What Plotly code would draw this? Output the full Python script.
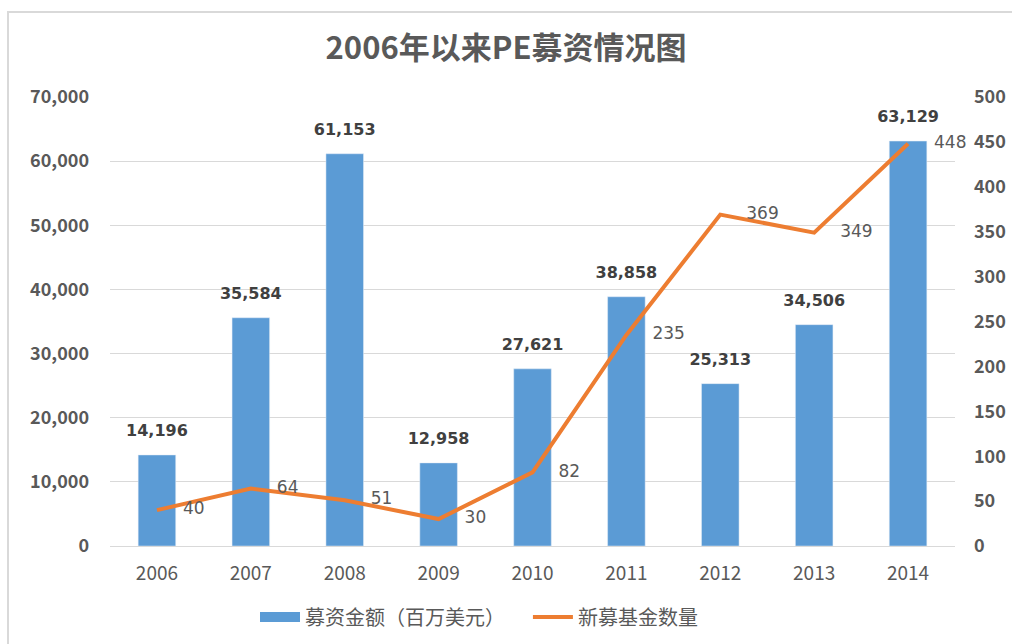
import plotly.graph_objects as go

years = ["2006", "2007", "2008", "2009", "2010", "2011", "2012", "2013", "2014"]
amount = [14196, 35584, 61153, 12958, 27621, 38858, 25313, 34506, 63129]
funds = [40, 64, 51, 30, 82, 235, 369, 349, 448]

W, H = 1012, 644
L, R, T, B = 110, 57, 97, 98
FONT = "Noto Sans CJK SC, Noto Sans, sans-serif"
LABEL_FONT = "DejaVu Sans, Verdana, sans-serif"
GREY = "#595959"
BLUE = "#5B9BD5"
ORANGE = "#ED7D31"
NBSP = "\u00a0"

fig = go.Figure()

fig.add_trace(go.Bar(
    x=years, y=amount, name="募资金额（百万美元）",
    marker_color=BLUE, width=0.40, showlegend=False,
))

# bar value labels, pushed up by an invisible marker
fig.add_trace(go.Scatter(
    x=years, y=amount, mode="markers+text", showlegend=False,
    marker=dict(size=22, color="rgba(0,0,0,0)"),
    text=[f"<b>{v:,}</b>" for v in amount], textposition="top center",
    textfont=dict(family=LABEL_FONT, size=16, color="#404040"),
    cliponaxis=False, hoverinfo="skip",
))

fig.add_trace(go.Scatter(
    x=years, y=funds, name="新募基金数量", yaxis="y2",
    mode="lines+markers+text", line=dict(color=ORANGE, width=4),
    marker=dict(size=40, color="rgba(0,0,0,0)"),
    text=[str(v) for v in funds], textposition="middle right",
    textfont=dict(family=LABEL_FONT, size=17, color=GREY),
    cliponaxis=False, showlegend=False,
))

# legend-only entries (wide blue block + orange line)
fig.add_trace(go.Scatter(x=[None], y=[None], mode="lines",
                         name="募资金额（百万美元）" + NBSP * 4,
                         line=dict(color=BLUE, width=10)))
fig.add_trace(go.Scatter(x=[None], y=[None], mode="lines", name="新募基金数量",
                         line=dict(color=ORANGE, width=4)))

# frame around the chart area (in paper coords from pixels)
pw, ph = W - L - R, H - T - B
def px(x):
    return (x - L) / pw
def py(y):
    return (H - B - y) / ph

fig.add_shape(type="rect", xref="paper", yref="paper",
              x0=px(8), x1=px(1030), y0=py(660), y1=py(12),
              line=dict(color="#d9d9d9", width=2))

fig.update_layout(
    width=W, height=H,
    margin=dict(l=L, r=R, t=T, b=B, autoexpand=False),
    paper_bgcolor="white", plot_bgcolor="white",
    font=dict(family=FONT, color=GREY),
    title=dict(text="<b>2006年以来PE募资情况图</b>", x=0.5, xanchor="center",
               y=1 - 48 / H, yanchor="middle",
               font=dict(size=31, color=GREY)),
    xaxis=dict(showgrid=False, tickfont=dict(size=19, color=GREY),
               showline=False, ticks="", automargin=False,
               range=[-0.5, 8.5], ticklabelstandoff=14),
    yaxis=dict(range=[0, 70000], dtick=10000, tickformat=",",
               gridcolor="#d9d9d9", gridwidth=1, zeroline=True,
               zerolinecolor="#d9d9d9", zerolinewidth=1,
               tickfont=dict(size=18, color=GREY, weight="bold"),
               ticklabelstandoff=20, automargin=False),
    yaxis2=dict(range=[0, 500], dtick=50, overlaying="y", side="right",
                showgrid=False, zeroline=False,
                tickfont=dict(size=18, color=GREY, weight="bold"),
                ticklabelstandoff=18, automargin=False),
    legend=dict(orientation="h", x=px(255), xanchor="left",
                y=py(617), yanchor="middle",
                font=dict(size=20, color=GREY),
                itemwidth=40, tracegroupgap=0),
    showlegend=True,
)

# drop the browser's default body margin so the figure sits at (0, 0)
fig.write_html("out.html", config={"displayModeBar": False},
               post_script="document.body.style.margin='0';document.body.style.overflow='hidden';")
